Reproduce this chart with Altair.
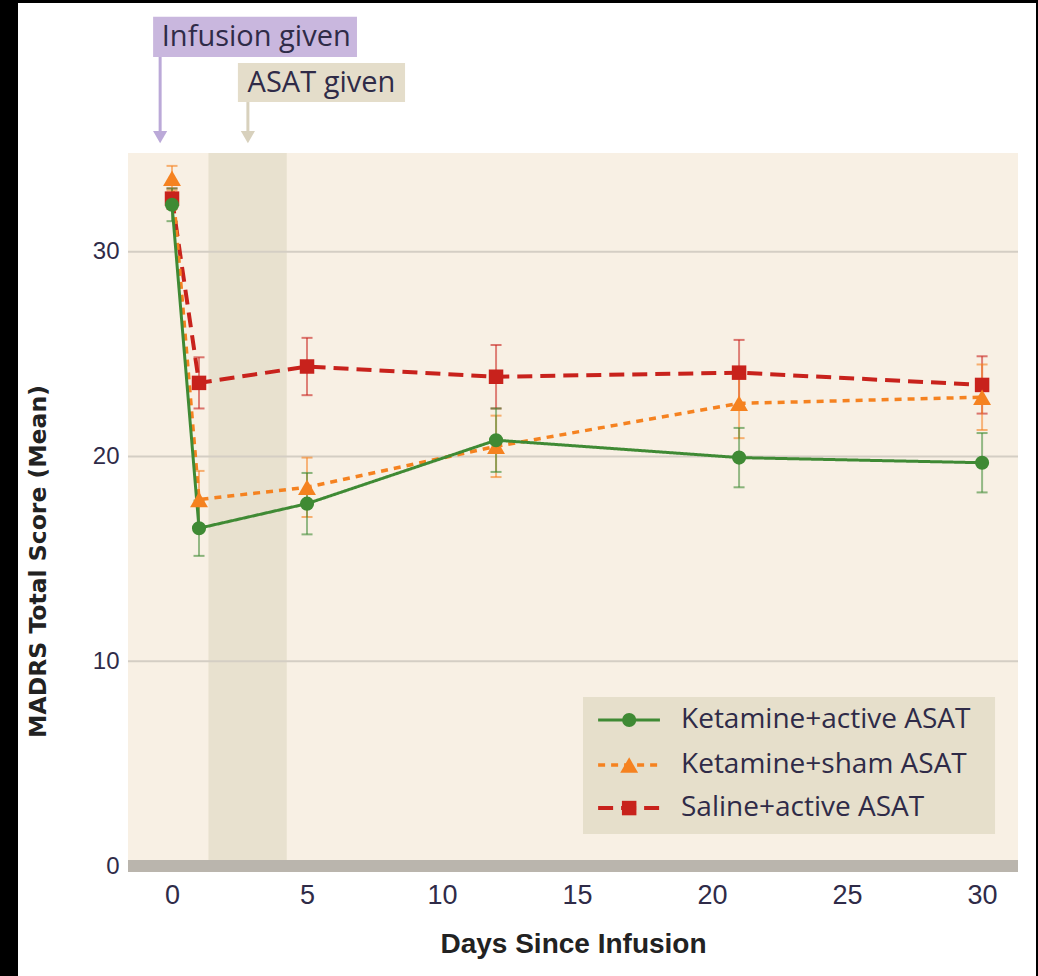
import altair as alt
import pandas as pd

# ---------------- data ----------------
days = [0, 1, 5, 12, 21, 30]
series_names = ["Ketamine+active ASAT", "Ketamine+sham ASAT", "Saline+active ASAT"]
ket_active = [32.3, 16.5, 17.7, 20.8, 19.95, 19.7]
ket_active_err = [0.8, 1.35, 1.5, 1.55, 1.45, 1.45]
ket_sham = [33.6, 17.9, 18.5, 20.5, 22.6, 22.9]
ket_sham_err = [0.6, 1.4, 1.45, 1.5, 1.7, 1.6]
saline = [32.6, 23.6, 24.4, 23.9, 24.1, 23.5]
saline_err = [0.5, 1.25, 1.4, 1.55, 1.6, 1.4]

x_ticks = [0, 5, 10, 15, 20, 25, 30]
y_ticks = [0, 10, 20, 30]
grid_vals = [10, 20, 30]
x_domain = [-1.63, 31.33]
y_domain = [0, 34.83]
asat_band = [1.35, 4.25]

# annotation boxes (in data units)
infusion_box = dict(x=-0.70, x2=6.85, y=39.52, y2=41.48, tx=-0.38, ty=40.5,
                    ax=-0.44, ay=39.52, ay2=35.6, label="Infusion given")
asat_box = dict(x=2.44, x2=8.63, y=37.32, y2=39.23, tx=2.8, ty=38.27,
                ax=2.81, ay=37.32, ay2=35.6, label="ASAT given")

# legend layout (data units)
legend_box = dict(x=15.22, x2=30.48, y=1.56, y2=8.26)
legend_rows = [7.13, 4.93, 2.83]
legend_line = [15.78, 18.07]
legend_marker_x = 16.93
legend_text_x = 18.85

W, H = 890, 713
colors = {"Ketamine+active ASAT": "#3f8a34",
          "Ketamine+sham ASAT": "#f58220",
          "Saline+active ASAT": "#c8221c"}
styles = {"Ketamine+active ASAT": dict(dash=[1, 0], width=3, shape="circle", size=200),
          "Ketamine+sham ASAT": dict(dash=[7, 6], width=3.5, shape="triangle-up", size=320),
          "Saline+active ASAT": dict(dash=[15, 8], width=4, shape="square", size=210)}
values = {"Ketamine+active ASAT": (ket_active, ket_active_err),
          "Ketamine+sham ASAT": (ket_sham, ket_sham_err),
          "Saline+active ASAT": (saline, saline_err)}

xs = alt.Scale(domain=x_domain, nice=False, zero=False)
ys = alt.Scale(domain=y_domain, nice=False, zero=False)

one = pd.DataFrame({"a": [0]})
FONT = "Open Sans"
TXT = "#2f2b48"

layers = []

# white page over black background
layers.append(alt.Chart(one).mark_rect(color="white").encode(
    x=alt.value(-110), x2=alt.value(908), y=alt.value(-150), y2=alt.value(823)))
# plot background
layers.append(alt.Chart(one).mark_rect(color="#f8f0e4").encode(
    x=alt.value(0), x2=alt.value(W), y=alt.value(0), y2=alt.value(H)))

# ASAT band
band_df = pd.DataFrame({"x": [asat_band[0]], "x2": [asat_band[1]], "y": [y_domain[0]], "y2": [y_domain[1]]})
layers.append(alt.Chart(band_df).mark_rect(color="#e8e1cf").encode(
    x=alt.X("x:Q", scale=xs, axis=alt.Axis(values=x_ticks, grid=False, domain=False, ticks=False,
                                            labelFontSize=27, labelFont="Liberation Sans",
                                            labelColor=TXT, labelPadding=16,
                                            title="Days Since Infusion", titleFont="Liberation Sans",
                                            titleFontSize=28, titleFontWeight="bold", titleColor="#222222",
                                            titlePadding=22, zindex=1)),
    x2="x2:Q",
    y=alt.Y("y:Q", scale=ys, axis=alt.Axis(values=y_ticks, grid=False, domain=False, ticks=False,
                                            labelFontSize=24, labelFont="Liberation Sans",
                                            labelColor=TXT, labelPadding=9,
                                            title="MADRS Total Score (Mean)", titleFont="DejaVu Sans",
                                            titleFontSize=23.5, titleFontWeight="bold", titleColor="#222222",
                                            titleX=-90, titleY=408, titleAngle=270, titleAlign="center",
                                            titleBaseline="middle", zindex=1)),
    y2="y2:Q"))

# gridlines
grid_df = pd.DataFrame({"y": grid_vals, "x": [x_domain[0]] * 3, "x2": [x_domain[1]] * 3})
layers.append(alt.Chart(grid_df).mark_rule(color="#d4cec4", strokeWidth=2).encode(
    x=alt.X("x:Q", scale=xs), x2="x2:Q", y=alt.Y("y:Q", scale=ys)))
# zero baseline
base_df = pd.DataFrame({"y": [0], "x": [x_domain[0]], "x2": [x_domain[1]]})
layers.append(alt.Chart(base_df).mark_rule(color="#bab5ad", strokeWidth=12).encode(
    x=alt.X("x:Q", scale=xs), x2="x2:Q", y=alt.Y("y:Q", scale=ys)))

order = ["Saline+active ASAT", "Ketamine+sham ASAT", "Ketamine+active ASAT"]
# error bars
for s in order:
    v, e = values[s]
    df = pd.DataFrame({"day": days, "v": v, "lo": [a - b for a, b in zip(v, e)], "hi": [a + b for a, b in zip(v, e)]})
    c = colors[s]
    layers.append(alt.Chart(df).mark_rule(color=c, strokeWidth=2, opacity=0.55).encode(
        x=alt.X("day:Q", scale=xs), y=alt.Y("lo:Q", scale=ys), y2="hi:Q"))
    for col in ["lo", "hi"]:
        layers.append(alt.Chart(df).mark_tick(color=c, orient="horizontal", size=11, thickness=2, opacity=0.6).encode(
            x=alt.X("day:Q", scale=xs), y=alt.Y(f"{col}:Q", scale=ys)))
# lines
for s in order:
    v, e = values[s]
    df = pd.DataFrame({"day": days, "v": v})
    st = styles[s]
    layers.append(alt.Chart(df).mark_line(color=colors[s], strokeWidth=st["width"], strokeDash=st["dash"]).encode(
        x=alt.X("day:Q", scale=xs), y=alt.Y("v:Q", scale=ys)))
# points
for s in order:
    v, e = values[s]
    df = pd.DataFrame({"day": days, "v": v})
    st = styles[s]
    layers.append(alt.Chart(df).mark_point(color=colors[s], filled=True, opacity=1, shape=st["shape"], size=st["size"]).encode(
        x=alt.X("day:Q", scale=xs), y=alt.Y("v:Q", scale=ys)))

# legend
lb = pd.DataFrame([legend_box])
layers.append(alt.Chart(lb).mark_rect(color="#e6dfcb").encode(
    x=alt.X("x:Q", scale=xs), x2="x2:Q", y=alt.Y("y:Q", scale=ys), y2="y2:Q"))
for s, ry in zip(series_names, legend_rows):
    st = styles[s]
    ldf = pd.DataFrame({"x": [legend_line[0]], "x2": [legend_line[1]], "y": [ry], "mx": [legend_marker_x],
                        "tx": [legend_text_x], "label": [s]})
    layers.append(alt.Chart(ldf).mark_rule(color=colors[s], strokeWidth=st["width"], strokeDash=st["dash"]).encode(
        x=alt.X("x:Q", scale=xs), x2="x2:Q", y=alt.Y("y:Q", scale=ys)))
    layers.append(alt.Chart(ldf).mark_point(color=colors[s], filled=True, opacity=1, shape=st["shape"], size=st["size"]).encode(
        x=alt.X("mx:Q", scale=xs), y=alt.Y("y:Q", scale=ys)))
    layers.append(alt.Chart(ldf).mark_text(align="left", baseline="middle", font=FONT, fontSize=28, color=TXT).encode(
        x=alt.X("tx:Q", scale=xs), y=alt.Y("y:Q", scale=ys), text="label:N"))

# annotations
for box, fill, arrow in [(infusion_box, "#c9b7de", "#bba9d8"), (asat_box, "#e4ddca", "#d8d1bd")]:
    bdf = pd.DataFrame([box])
    layers.append(alt.Chart(bdf).mark_rect(color=fill).encode(
        x=alt.X("x:Q", scale=xs), x2="x2:Q", y=alt.Y("y:Q", scale=ys), y2="y2:Q"))
    layers.append(alt.Chart(bdf).mark_rule(color=arrow, strokeWidth=3).encode(
        x=alt.X("ax:Q", scale=xs), y=alt.Y("ay:Q", scale=ys), y2="ay2:Q"))
    layers.append(alt.Chart(bdf).mark_point(color=arrow, filled=True, opacity=1, shape="triangle-down", size=200).encode(
        x=alt.X("ax:Q", scale=xs), y=alt.Y("ay2:Q", scale=ys)))
    layers.append(alt.Chart(bdf).mark_text(align="left", baseline="middle", font=FONT, fontSize=29, color=TXT).encode(
        x=alt.X("tx:Q", scale=xs), y=alt.Y("ty:Q", scale=ys), text="label:N"))

chart = alt.layer(*layers).properties(
    width=W, height=H,
    autosize=alt.AutoSizeParams(type="none"),
    padding={"left": 128, "top": 153, "right": 20, "bottom": 110},
    background="black",
).configure_view(stroke=None, fill=None)

chart.save("out.html", embed_options={"renderer": "svg", "actions": False})
